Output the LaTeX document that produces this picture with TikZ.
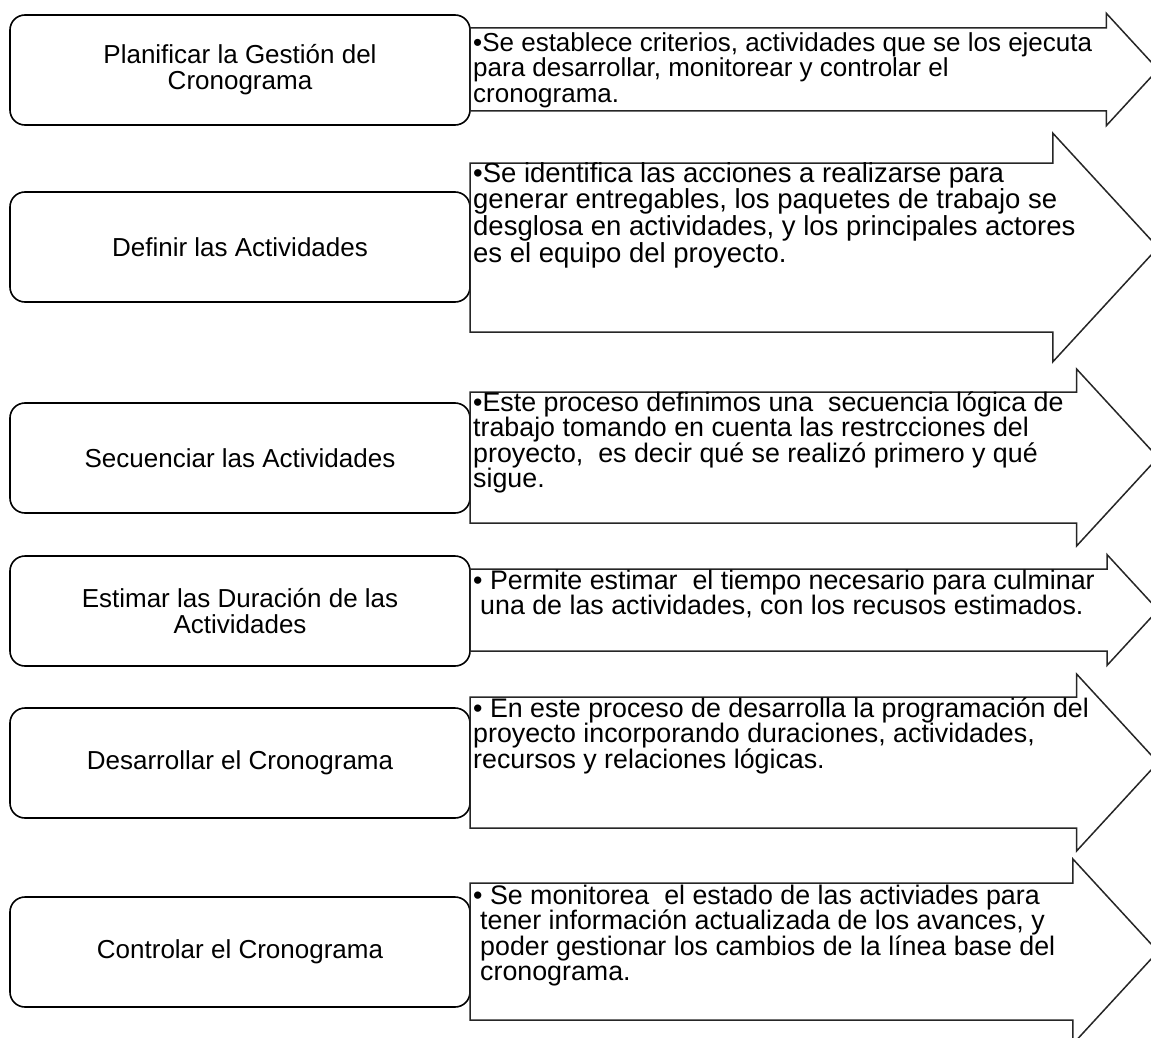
\documentclass[tikz,border=0pt]{standalone}
\usepackage{fontspec}
\setmainfont{Liberation Sans}

% arrow-shaped panel: #1 = top of the body, #2 = bottom of the body
\newcommand\panelflecha[2]{%
  \pgfmathsetmacro\altcab{(#2-#1)/0.74}%
  \pgfmathsetmacro\sobra{(\altcab-(#2-#1))/2}%
  \pgfmathsetmacro\xbase{1158-0.46*\altcab}%
  \draw[flecha] (470,#1) -- ({\xbase},#1) -- ({\xbase},{#1-\sobra})
    -- (1158,{(#1+#2)/2}) -- ({\xbase},{#2+\sobra}) -- ({\xbase},#2)
    -- (470,#2) -- cycle;}
% fixed height for the first line of a description
\newcommand\primeralinea{\rule{0pt}{24pt}}

\begin{document}
\begin{tikzpicture}[x=1pt,y=-1pt,
  etapa/.style={draw=black, line width=1.6pt, rounded corners=15pt, fill=white,
    minimum width=460pt, minimum height=110pt, inner sep=0pt,
    font=\fontsize{26}{26}\selectfont, align=center},
  flecha/.style={draw=black!85, line width=1.5pt, fill=white, line join=miter},
  detalle/.style={anchor=north west, inner sep=0pt, align=left,
    font=\fontsize{#1}{25.5}\selectfont},
  detalle/.default=26.8]

\useasboundingbox (0,0) rectangle (1151,1038);
\clip (0,0) rectangle (1151,1038);

% process stages on the left
\node[etapa] (e1) at (240,70)  {Planificar la Gestión del\\Cronograma};
\node[etapa] (e2) at (240,247) {Definir las Actividades};
\node[etapa] (e3) at (240,458) {Secuenciar las Actividades};
\node[etapa] (e4) at (240,611) {Estimar las Duración de las\\Actividades};
\node[etapa] (e5) at (240,763) {Desarrollar el Cronograma};
\node[etapa] (e6) at (240,952) {Controlar el Cronograma};

% description arrows
\panelflecha{28}{111}
\panelflecha{163}{332}
\panelflecha{392}{523}
\panelflecha{569}{651}
\panelflecha{697}{828}
\panelflecha{883}{1020}

% description texts (node top = first baseline - 24)
\node[detalle=26] (d1) at (473,27) {\primeralinea•Se establece criterios, actividades que se los ejecuta\\
para desarrollar, monitorear y controlar el\\
cronograma.};
\node[detalle=27.5] (d2) at (473,158) {\primeralinea•Se identifica las acciones a realizarse para\\
generar entregables, los paquetes de trabajo se\\
desglosa en actividades, y los principales actores\\
es el equipo del proyecto.};
\node[detalle] (d3) at (473,387) {\primeralinea•Este proceso definimos una\ \ secuencia lógica de\\
trabajo tomando en cuenta las restrcciones del\\
proyecto,\ \ es decir qué se realizó primero y qué\\
sigue.};
\node[detalle] (d4) at (473,565) {\primeralinea•\ Permite estimar\ \ el tiempo necesario para culminar\\
\hspace{7pt}una de las actividades, con los recusos estimados.};
\node[detalle] (d5) at (473,693) {\primeralinea•\ En este proceso de desarrolla la programación del\\
proyecto incorporando duraciones, actividades,\\
recursos y relaciones lógicas.};
\node[detalle] (d6) at (473,880) {\primeralinea•\ Se monitorea\ \ el estado de las activiades para\\
\hspace{7pt}tener información actualizada de los avances, y\\
\hspace{7pt}poder gestionar los cambios de la línea base del\\
\hspace{7pt}cronograma.};
\end{tikzpicture}
\end{document}
